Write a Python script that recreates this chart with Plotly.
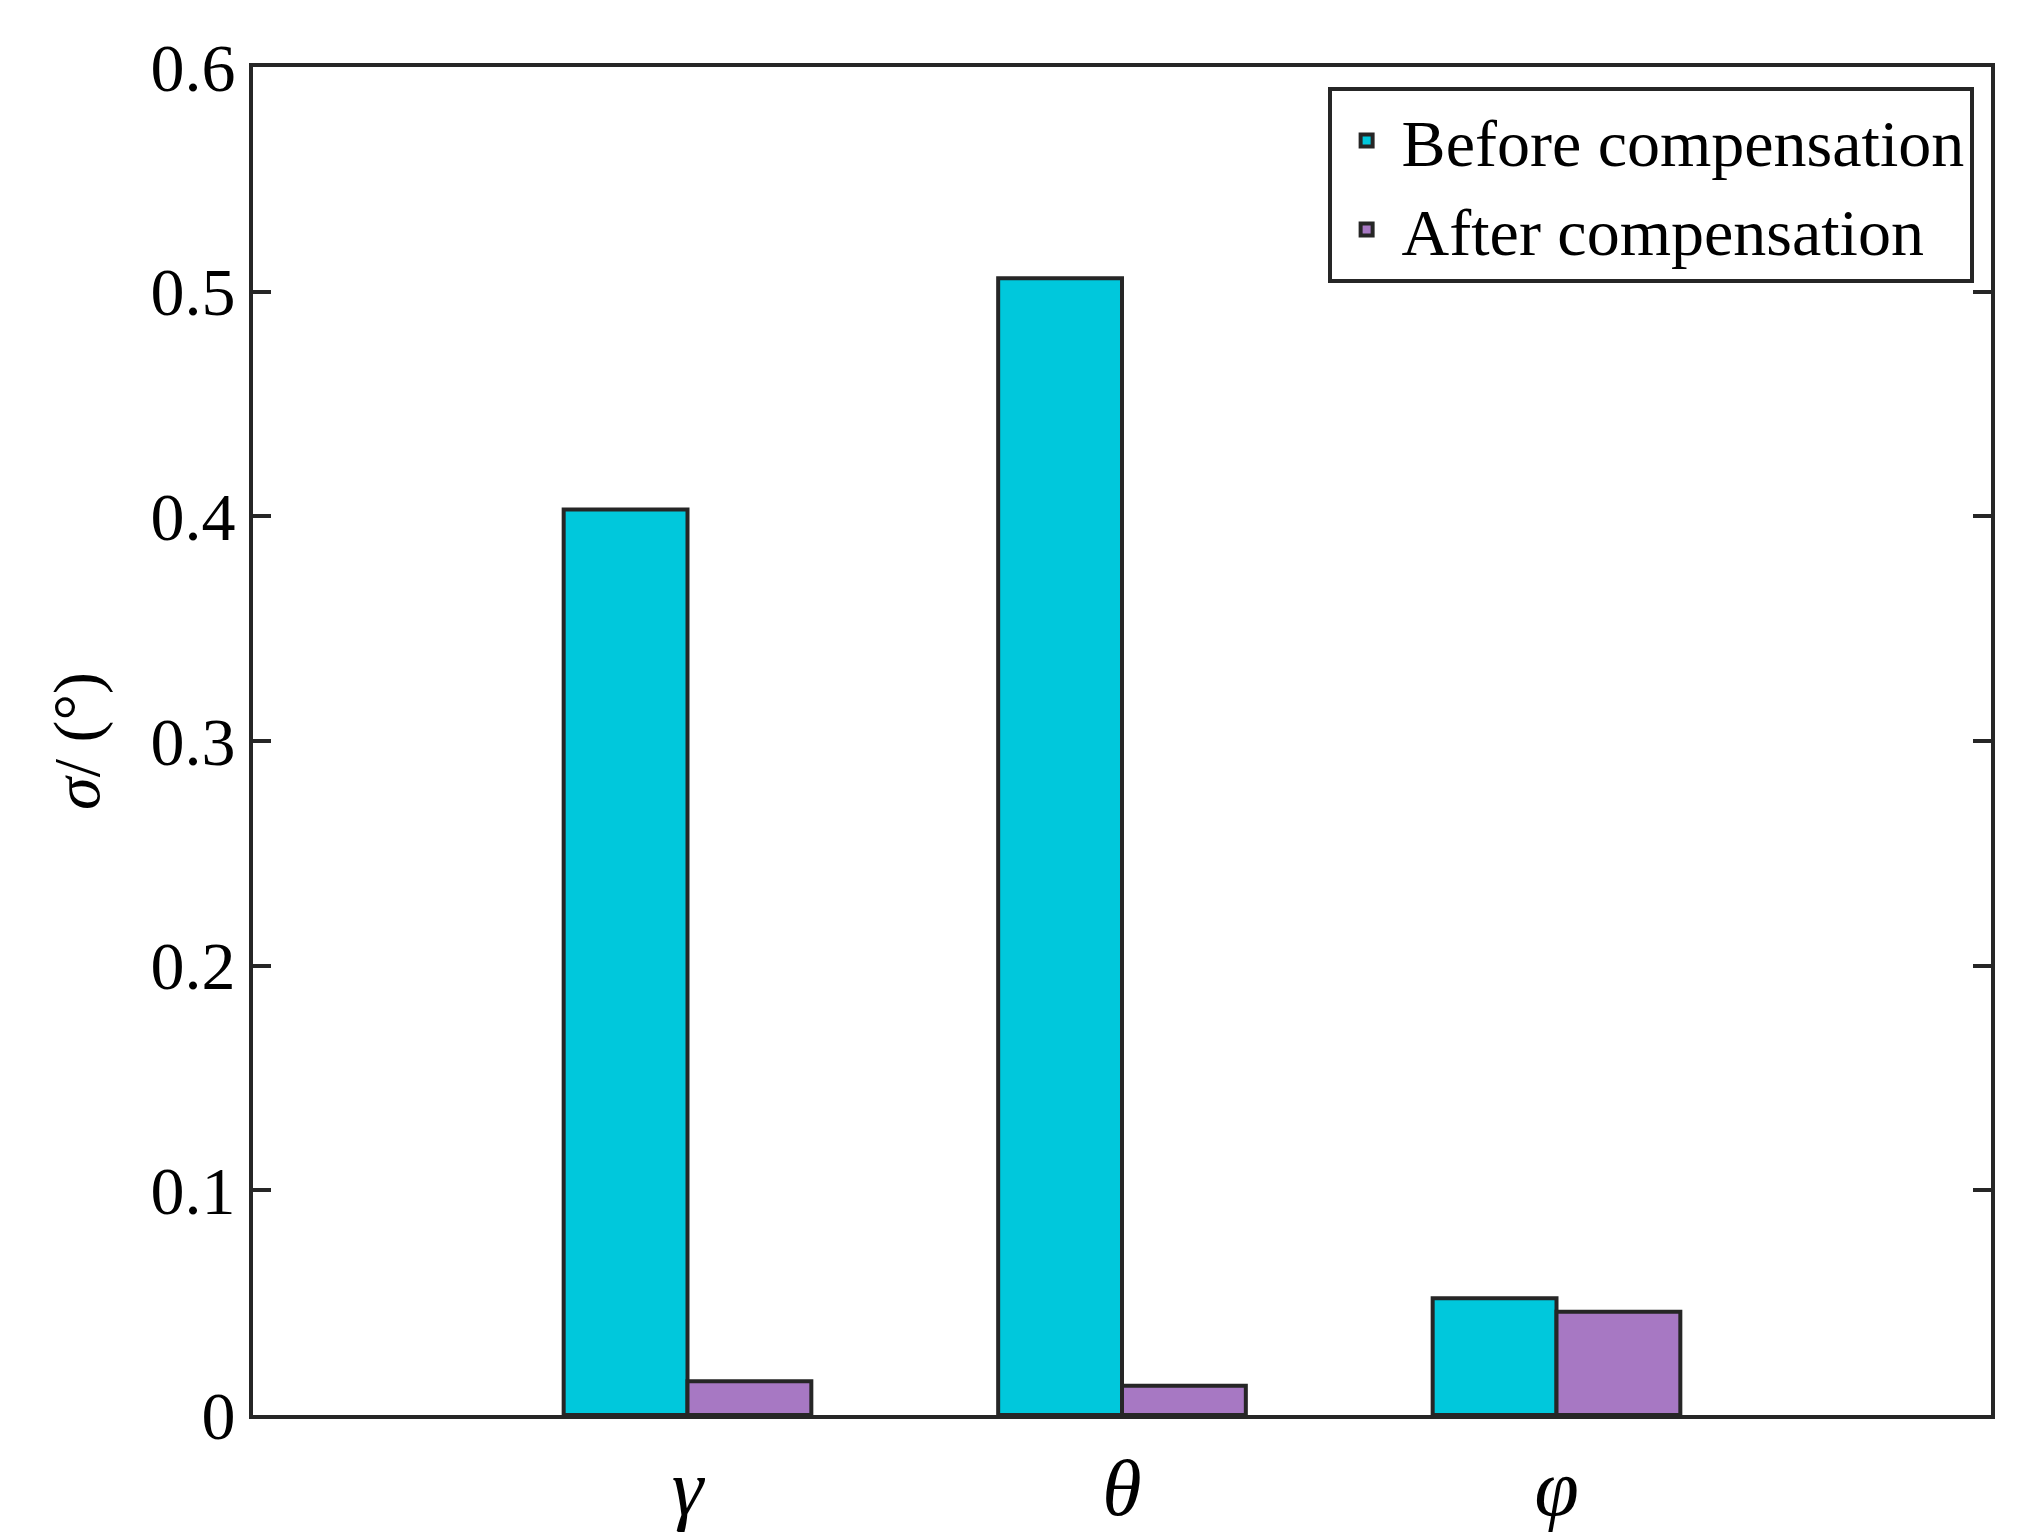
import plotly.graph_objects as go

categories = ["<i>γ</i>", "<i>θ</i>", "<i>φ</i>"]
positions = [1, 2, 3]
before = [0.403, 0.506, 0.052]
after = [0.015, 0.013, 0.046]

font = "Liberation Serif"
fig = go.Figure()
fig.add_bar(x=positions, y=before, name="Before compensation",
            marker=dict(color="#00C8DC", line=dict(color="#262626", width=4)))
fig.add_bar(x=positions, y=after, name="After compensation",
            marker=dict(color="#A778C3", line=dict(color="#262626", width=4)))
fig.update_layout(
    width=2038, height=1536, barmode="group", bargap=0.43, bargroupgap=0,
    plot_bgcolor="white", paper_bgcolor="white",
    margin=dict(l=245, r=55, t=59, b=95),
    font=dict(family=font, size=68, color="black"),
    legend=dict(x=0.99, y=0.985, xanchor="right", yanchor="top",
                bordercolor="#262626", borderwidth=4, bgcolor="white",
                font=dict(size=66), tracegroupgap=30, itemwidth=60),
    xaxis=dict(range=[0, 4], tickvals=positions, ticktext=categories,
               showline=True, linecolor="#262626", linewidth=4, mirror=True,
               ticks="", tickfont=dict(size=80), showgrid=False, zeroline=False),
    yaxis=dict(range=[0, 0.6],
               tickvals=[0, 0.1, 0.2, 0.3, 0.4, 0.5, 0.6],
               ticktext=["0", "0.1", "0.2", "0.3", "0.4", "0.5", "0.6"],
               showline=True, linecolor="#262626", linewidth=4, mirror="ticks",
               ticks="inside", ticklen=18, tickwidth=4, tickcolor="#262626",
               tickfont=dict(size=68),
               showgrid=False, zeroline=False,
               title=dict(text="<i>σ</i>/ (°)", font=dict(size=66), standoff=30)),
)
fig.write_html("out.html")
